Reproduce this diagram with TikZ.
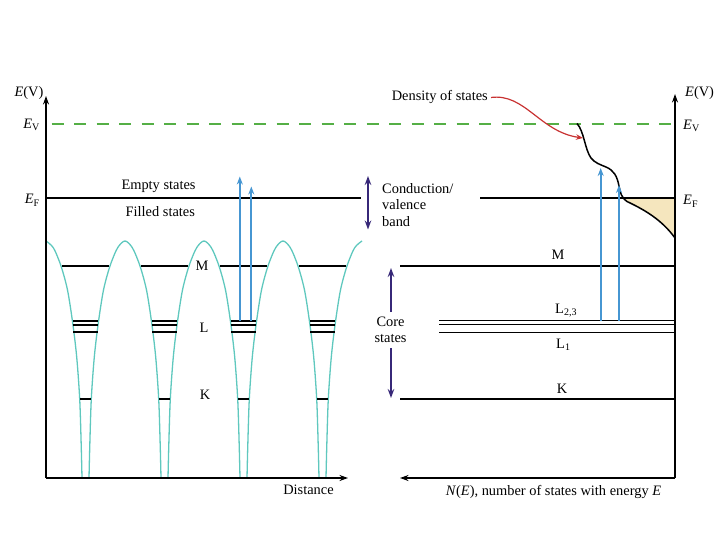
\documentclass[tikz,border=0pt]{standalone}
\usepackage{fontspec}
\setmainfont{Liberation Serif}
\usetikzlibrary{arrows.meta}
\definecolor{wellc}{RGB}{95,200,190}
\definecolor{excc}{RGB}{70,150,210}
\definecolor{bandc}{RGB}{55,40,120}
\definecolor{evc}{RGB}{85,175,70}
\definecolor{fillc}{RGB}{245,230,190}
\definecolor{redc}{RGB}{200,50,50}
\newcommand\mydospath{(577,123.5) .. controls (584,131) and (585,150) .. (591,158) .. controls (595,163) and (600,164.5) .. (606,167) .. controls (614,170.5) and (617,176) .. (619,186) .. controls (620.5,193) and (621,197) .. (627,201.5) .. controls (645,210) and (662,220) .. (675,238)}
\begin{document}
\begin{tikzpicture}[x=1pt,y=-1pt,
  font=\fontsize{14.4}{16.5}\selectfont,
  lbl/.style={inner sep=0pt},
  axis/.style={line width=1.7pt,-{Stealth[length=8.5pt,width=6pt]}},
  fermi/.style={line width=1.5pt},
  level/.style={line width=1.5pt},
  wlevel/.style={line width=2pt},
  klevel/.style={line width=1.6pt},
  well/.style={draw=wellc,line width=1.3pt},
  excite/.style={draw=excc,line width=1.8pt,-{Stealth[length=8pt,width=6pt]}},
  bandarrow/.style={draw=bandc,line width=1.8pt},
  bandtip/.style={-{Stealth[length=9pt,width=6.5pt]}},
  bandboth/.style={{Stealth[length=9pt,width=6.5pt]}-{Stealth[length=9pt,width=6.5pt]}},
  vacuum/.style={draw=evc,line width=1.5pt,dash pattern=on 12pt off 10.5pt},
  dosline/.style={line width=1.5pt},
  pointer/.style={draw=redc,line width=1.2pt,-{Stealth[length=7pt,width=5.5pt]}}]
\useasboundingbox (0,0) rectangle (720,540);

% ---------- axes ----------
\coordinate (LO) at (46,478);
\coordinate (LT) at (46,96);
\coordinate (LX) at (348,478);
\coordinate (RO) at (675,478);
\coordinate (RT) at (675,94);
\coordinate (RX) at (400,478);

% ---------- vacuum level ----------
\coordinate (ev1) at (51.5,124);
\coordinate (ev2) at (675,124);
\draw[vacuum] (ev1) -- (ev2);

% ---------- density of states fill (below E_F) ----------
\begin{scope}
  \clip (560,198) rectangle (675,260);
  \fill[fillc] \mydospath -- (675,100) -- (577,100) -- cycle;
\end{scope}

% ---------- Fermi levels ----------
\coordinate (ef1) at (46,198);
\coordinate (ef2) at (361,198);
\coordinate (ef3) at (480,198);
\coordinate (ef4) at (675,198);
\draw[fermi] (ef1) -- (ef2);
\draw[fermi] (ef3) -- (ef4);

% ---------- potential wells ----------
\draw[well] plot[smooth] coordinates {(46,241) (53.5,248) (61,266) (67.5,290) (72.7,323) (76.7,357) (79.7,399) (81.2,445) (82,478)};
\foreach \c in {85.5,164.5,243.5}{
  \draw[well] plot[smooth] coordinates {({\c+3.5},478) ({\c+4.3},445) ({\c+5.8},399) ({\c+8.8},357) ({\c+12.8},323) ({\c+18},290) ({\c+24.5},266) ({\c+32},248) ({\c+39.5},241) ({\c+47},248) ({\c+54.5},266) ({\c+61},290) ({\c+66.2},323) ({\c+70.2},357) ({\c+73.2},399) ({\c+74.7},445) ({\c+75.5},478)};
}
\draw[well] plot[smooth] coordinates {(326,478) (326.8,445) (328.3,399) (331.3,357) (335.3,323) (340.5,290) (347,266) (354.5,248) (362,241)};

% ---------- atomic levels in the wells ----------
\foreach \c in {85.5,164.5,243.5,322.5}{
  \draw[wlevel] ({\c-23.5},266) -- ({\c+23.5},266);
  \draw[wlevel] ({\c-12.5},321) -- ({\c+12.5},321);
  \draw[wlevel] ({\c-12.5},324.5) -- ({\c+12.5},324.5);
  \draw[wlevel] ({\c-12.5},332) -- ({\c+12.5},332);
  \draw[klevel] ({\c-5.3},399) -- ({\c+5.3},399);
}

% ---------- right-hand levels ----------
\coordinate (m1) at (400,266);   \coordinate (m2) at (675,266);
\coordinate (la1) at (439,320.7); \coordinate (la2) at (675,320.7);
\coordinate (lb1) at (439,324.3); \coordinate (lb2) at (675,324.3);
\coordinate (lc1) at (439,332.3); \coordinate (lc2) at (675,332.3);
\coordinate (k1) at (400,399);   \coordinate (k2) at (675,399);
\draw[level] (m1) -- (m2);
\draw[level,line width=1.3pt] (la1) -- (la2);
\draw[level,line width=1.3pt] (lb1) -- (lb2);
\draw[level] (lc1) -- (lc2);
\draw[level] (k1) -- (k2);

% axes drawn over the levels
\draw[axis] (LO) -- (LT);
\draw[axis] (LO) -- (LX);
\draw[axis] (RO) -- (RT);
\draw[axis] (RO) -- (RX);

% ---------- density of states curve ----------
\draw[dosline] \mydospath;

% ---------- excitation arrows ----------
\coordinate (xa0) at (239.8,321); \coordinate (xa1) at (239.8,176.5);
\coordinate (xb0) at (251.3,321); \coordinate (xb1) at (251.3,186.5);
\coordinate (xc0) at (600.7,321); \coordinate (xc1) at (600.7,168);
\coordinate (xd0) at (619,321);   \coordinate (xd1) at (619,185);
\draw[excite] (xa0) -- (xa1);
\draw[excite] (xb0) -- (xb1);
\draw[excite] (xc0) -- (xc1);
\draw[excite] (xd0) -- (xd1);

% ---------- band arrows ----------
\coordinate (cb1) at (368,176); \coordinate (cb2) at (368,229.5);
\draw[bandarrow,bandboth] (cb1) -- (cb2);
\coordinate (cs1) at (391,312); \coordinate (cs2) at (391,268);
\coordinate (cs3) at (391,348); \coordinate (cs4) at (391,398);
\draw[bandarrow,bandtip] (cs1) -- (cs2);
\draw[bandarrow,bandtip] (cs3) -- (cs4);

% ---------- labels ----------
\node[lbl,anchor=base east] (lev) at (43.5,97) {\textit{E}(V)};
\node[lbl,anchor=base east] (lEV) at (40,128.5) {\textit{E}\textsubscript{V}};
\node[lbl,anchor=base east] (lEF) at (40,204) {\textit{E}\textsubscript{F}};
\node[lbl,anchor=base west] (rev) at (685,97) {\textit{E}(V)};
\node[lbl,anchor=base west] (rEV) at (683,129.5) {\textit{E}\textsubscript{V}};
\node[lbl,anchor=base west] (rEF) at (683,205) {\textit{E}\textsubscript{F}};

\node[lbl,anchor=base] (empty) at (158.5,189.5) {Empty states};
\node[lbl,anchor=base] (filled) at (160.3,216) {Filled states};
\node[lbl,anchor=base] (dist) at (308.5,494.5) {Distance};
\node[lbl,anchor=base] (ne) at (553.5,495) {\textit{N}(\textit{E}), number of states with energy \textit{E}};

\node[lbl,anchor=base] (wM) at (202,270) {M};
\node[lbl,anchor=base] (wL) at (204,332.5) {L};
\node[lbl,anchor=base] (wK) at (205,399) {K};

\node[lbl,anchor=base] (rM) at (558,259.3) {M};
\node[lbl,anchor=base west] (rL23) at (555,313.3) {L\textsubscript{2,3}};
\node[lbl,anchor=base west] (rL1) at (556,348.3) {L\textsubscript{1}};
\node[lbl,anchor=base] (rK) at (562,393.3) {K};

\node[lbl,anchor=north west,align=left] (cond) at (382,183) {Conduction/\\valence\\band};
\node[lbl,anchor=north,align=center] (core) at (390.5,316.5) {Core\\states};

\node[lbl,anchor=base east] (dos) at (488,101) {Density of states};
\draw[pointer] ([xshift=3pt]dos.east) .. controls (525,93) and (540,132) .. (583,138);
\end{tikzpicture}
\end{document}
